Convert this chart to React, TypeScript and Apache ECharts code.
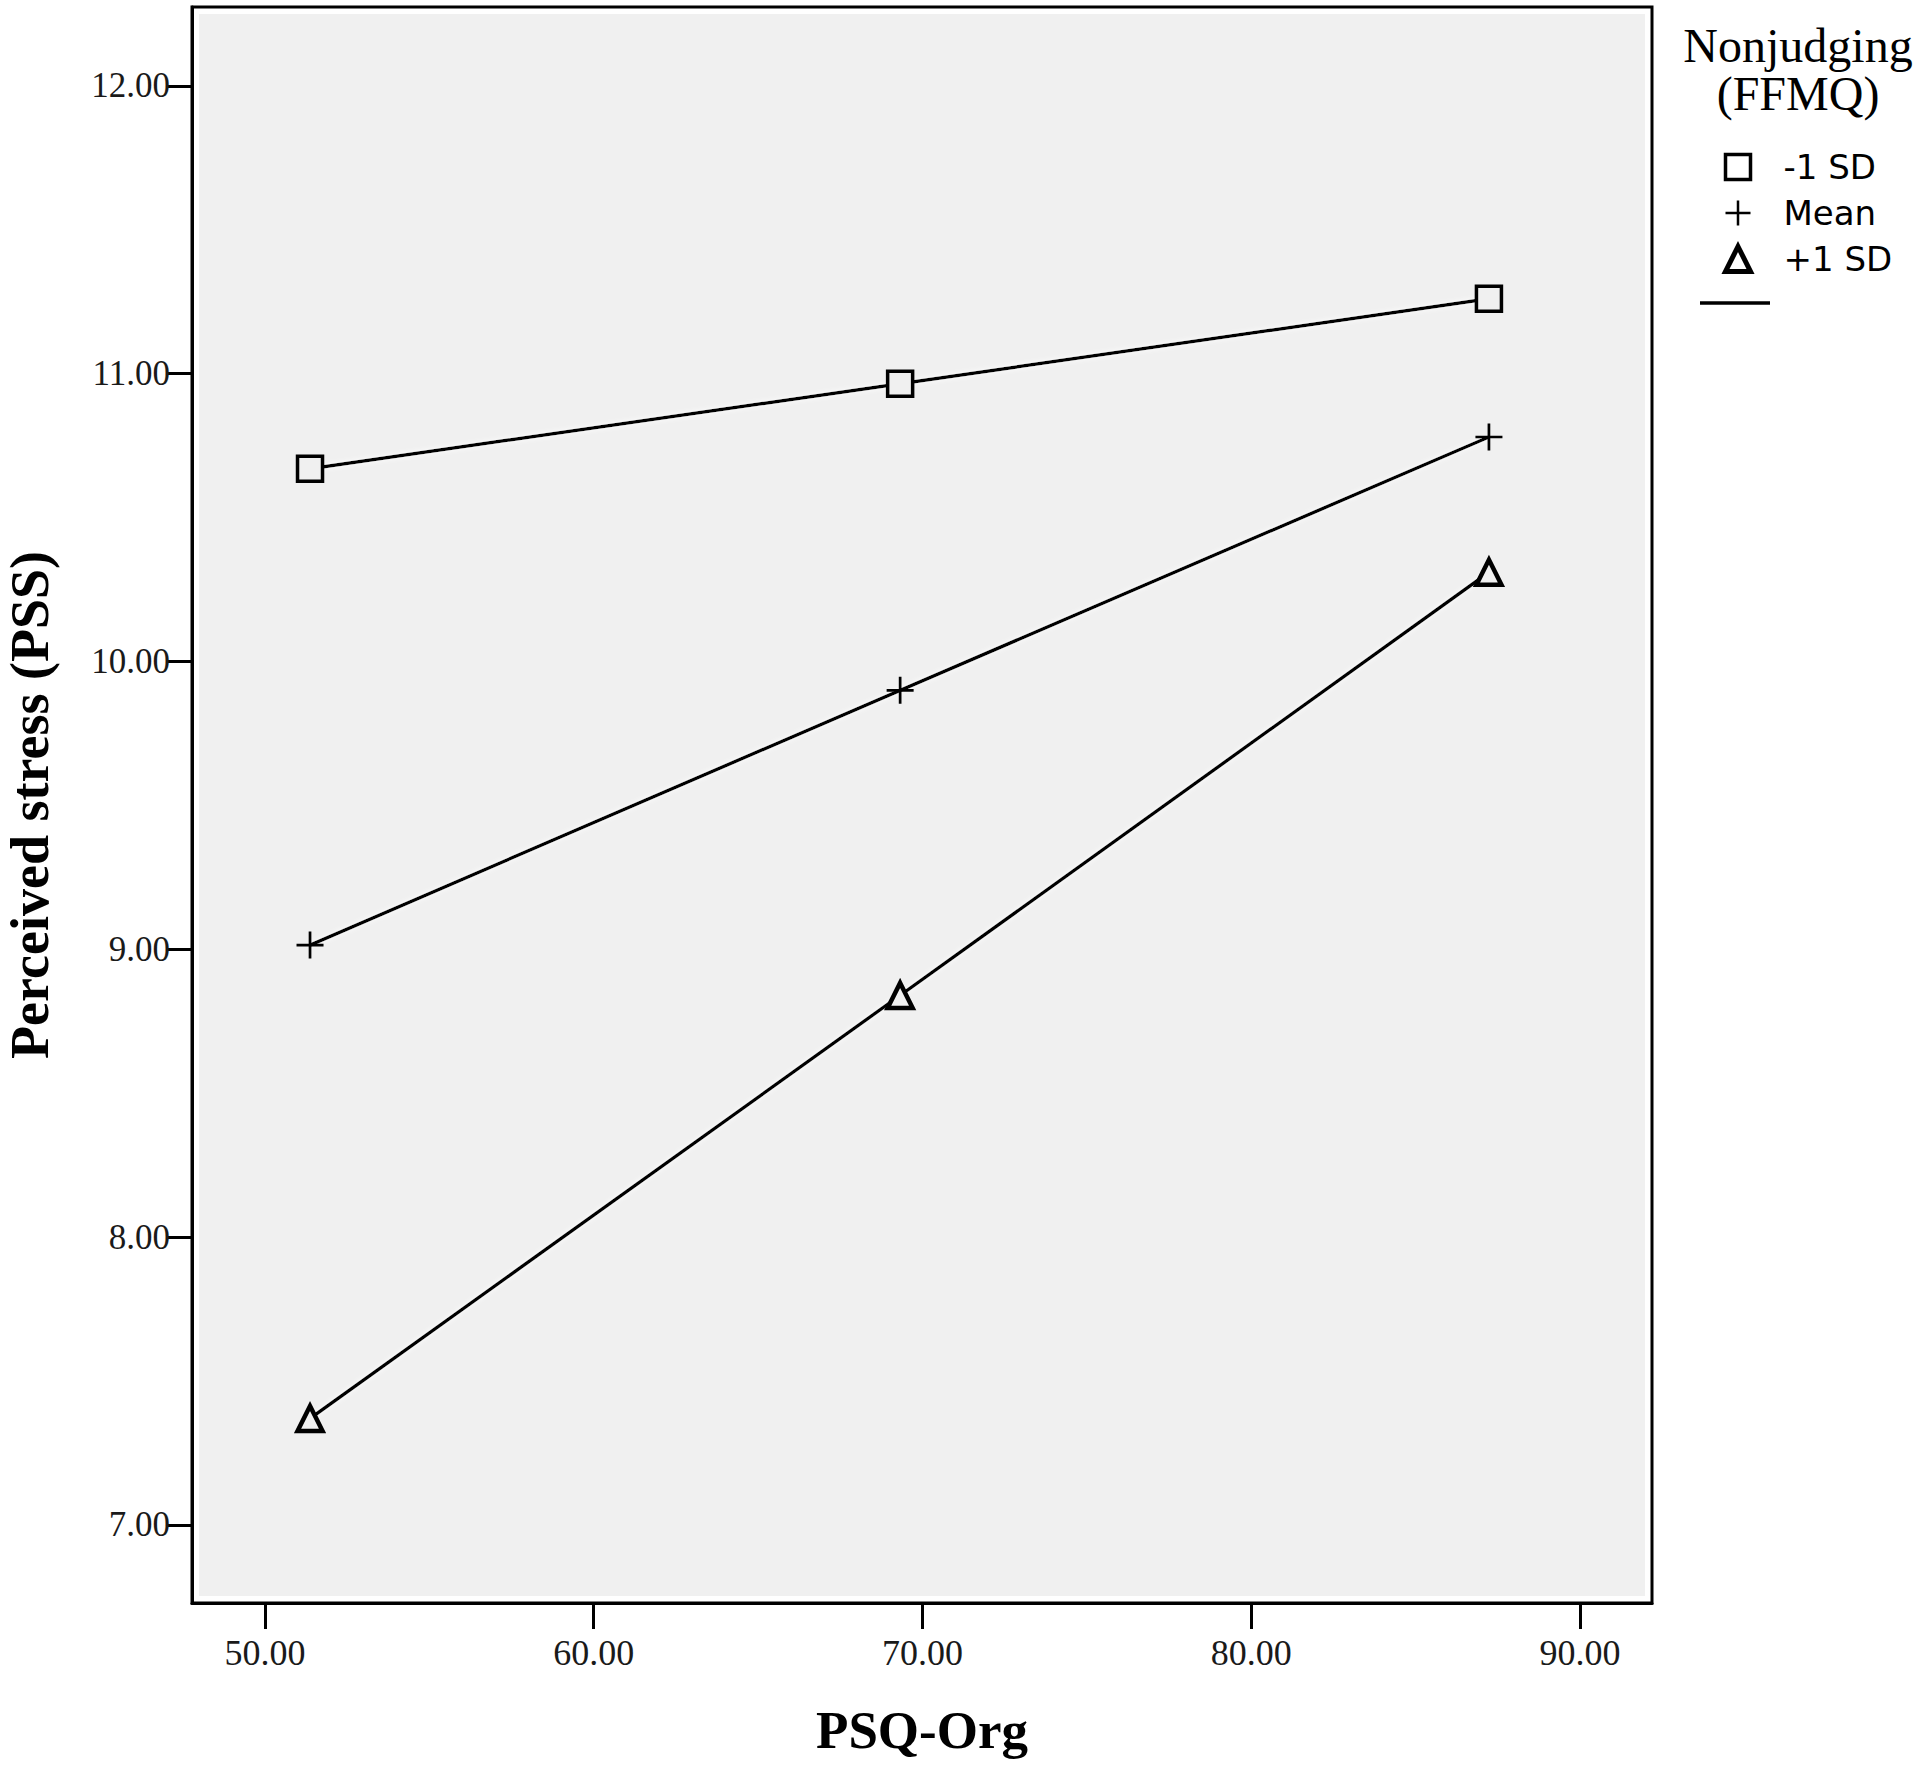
import React, { useEffect, useRef } from "react";
import * as echarts from "echarts";

const psqOrg = [51.37, 69.32, 87.23];
const minusOneSD = [10.67, 10.965, 11.26];
const meanLevel = [9.015, 9.9, 10.78];
const plusOneSD = [7.37, 8.84, 10.31];
const seriesNames = ["-1 SD", "Mean", "+1 SD"];
const xTicks = [50, 60, 70, 80, 90];
const yTicks = [7, 8, 9, 10, 11, 12];

const GRID = { left: 192, top: 7, right: 268, bottom: 162 };
const W = 1920;
const H = 1765;
const BG = "#f0f0f0";
const PLUS = "path://M9,0h2v9h9v2h-9v9h-2v-9h-9v-2h9z";

export default function App() {
  const ref = useRef<HTMLDivElement>(null);
  useEffect(() => {
    document.body.style.margin = "0";
    const chart = echarts.init(ref.current!, null, { renderer: "svg" });
    const pair = (ys: number[]) => psqOrg.map((x, i) => [x, ys[i]]);
    const gw = W - GRID.left - GRID.right;
    const gh = H - GRID.top - GRID.bottom;
    const lineStyle = {
      color: "#000",
      width: 3.5,
      shadowColor: "#ffffff",
      shadowBlur: 5,
    };
    chart.setOption({
      animation: false,
      backgroundColor: "#fff",
      grid: {
        ...GRID,
        outerBoundsMode: "none",
        containLabel: false,
        show: true,
        backgroundColor: "#fff",
        borderColor: "#000",
        borderWidth: 3,
      },
      xAxis: {
        type: "value",
        min: 47.78,
        max: 92.19,
        name: "PSQ-Org",
        nameLocation: "middle",
        nameGap: 100,
        nameTextStyle: {
          fontFamily: "Liberation Serif",
          fontWeight: "bold",
          fontSize: 53,
          color: "#000",
        },
        axisLine: { show: true, lineStyle: { color: "#000", width: 3 } },
        axisTick: {
          show: true,
          length: 26,
          lineStyle: { color: "#000", width: 3 },
          customValues: xTicks,
        },
        axisLabel: {
          customValues: xTicks,
          formatter: (v: number) => v.toFixed(2),
          fontFamily: "Liberation Serif",
          fontSize: 36,
          color: "#1a1a1a",
          margin: 32,
        },
        splitLine: { show: false },
      },
      yAxis: {
        type: "value",
        min: 6.729,
        max: 12.274,
        name: "Perceived stress (PSS)",
        nameLocation: "middle",
        nameGap: 135,
        nameTextStyle: {
          fontFamily: "Liberation Serif",
          fontWeight: "bold",
          fontSize: 54,
          color: "#000",
        },
        axisLine: { show: true, lineStyle: { color: "#000", width: 3 } },
        axisTick: {
          show: true,
          length: 26,
          lineStyle: { color: "#000", width: 3 },
          customValues: yTicks,
        },
        axisLabel: {
          customValues: yTicks,
          formatter: (v: number) => v.toFixed(2),
          fontFamily: "Liberation Serif",
          fontSize: 35,
          color: "#1a1a1a",
          margin: 22,
        },
        splitLine: { show: false },
      },
      legend: {
        orient: "vertical",
        left: 1723,
        top: 150,
        padding: 0,
        itemWidth: 25,
        itemHeight: 25,
        itemGap: 12,
        textStyle: {
          fontFamily: "DejaVu Sans",
          fontSize: 34,
          color: "#000",
          padding: [0, 0, 0, 28],
        },
        data: [
          {
            name: seriesNames[0],
            icon: "rect",
            itemStyle: { color: "#fff", borderColor: "#000", borderWidth: 3.5 },
          },
          {
            name: seriesNames[1],
            icon: PLUS,
            itemStyle: { color: "#000", borderWidth: 0 },
          },
          {
            name: seriesNames[2],
            icon: "triangle",
            itemStyle: { color: "#fff", borderColor: "#000", borderWidth: 5 },
          },
        ],
      },
      graphic: [
        {
          type: "rect",
          z: 1,
          silent: true,
          shape: { x: GRID.left + 7, y: GRID.top + 7, width: gw - 14, height: gh - 14 },
          style: { fill: BG },
        },
        {
          type: "text",
          x: 1798,
          y: 21,
          style: {
            text: "Nonjudging\n(FFMQ)",
            fontFamily: "Liberation Serif",
            fontSize: 48,
            lineHeight: 48,
            fill: "#000",
            align: "center",
            verticalAlign: "top",
          },
        },
        {
          type: "line",
          shape: { x1: 1700, y1: 303, x2: 1770, y2: 303 },
          style: { stroke: "#000", lineWidth: 3.5 },
        },
      ],
      series: [
        {
          name: seriesNames[0],
          type: "line",
          z: 5,
          data: pair(minusOneSD),
          symbol: "rect",
          symbolSize: 25,
          showSymbol: true,
          lineStyle,
          itemStyle: { color: BG, borderColor: "#000", borderWidth: 3.5 },
        },
        {
          name: seriesNames[1],
          type: "line",
          z: 5,
          data: pair(meanLevel),
          symbol: PLUS,
          symbolSize: 27,
          lineStyle,
          itemStyle: { color: "#000", borderWidth: 0 },
        },
        {
          name: seriesNames[2],
          type: "line",
          z: 5,
          data: pair(plusOneSD),
          symbol: "triangle",
          symbolSize: 25,
          lineStyle,
          itemStyle: { color: BG, borderColor: "#000", borderWidth: 4.5 },
        },
      ],
    });
    return () => chart.dispose();
  }, []);
  return <div ref={ref} style={{ width: W, height: H }} />;
}
